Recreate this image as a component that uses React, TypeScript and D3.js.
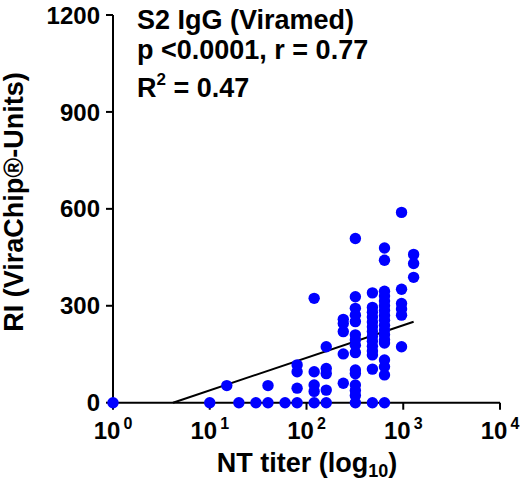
import React from 'react';
import * as d3 from 'd3';

// NT titer groups and the RI values plotted at each titer
const titers = [1, 10, 15, 20, 30, 40, 60, 80, 120, 160, 240, 320, 480, 640, 960, 1280];
const riValues = [
  [0],
  [0],
  [53],
  [0],
  [0],
  [0, 53],
  [0],
  [0, 45, 96, 117],
  [0, 35, 55, 96, 323],
  [0, 39, 90, 106, 173],
  [60, 151, 220, 245, 258],
  [0, 22, 38, 55, 90, 101, 155, 178, 195, 210, 251, 271, 292, 328, 508],
  [0, 104, 148, 160, 175, 190, 205, 220, 235, 250, 265, 280, 295, 340],
  [0, 86, 111, 132, 185, 195, 210, 225, 240, 255, 270, 285, 300, 315, 330, 345, 441, 479],
  [173, 271, 290, 307, 351, 589],
  [388, 431, 459],
];

const yTicks = [0, 300, 600, 900, 1200];
const xTicks = [1, 10, 100, 1000, 10000];

// fitted line RI = intercept + slope * log10(titer)
const fitIntercept = -62.5;
const fitSlope = 100.8;

const statsLines = ['S2 IgG (Viramed)', 'p <0.0001, r = 0.77'];

const FONT = '"Liberation Sans", Arial, sans-serif';

export default function App() {
  const x = d3.scaleLog().domain([1, 10000]).range([113, 500]);
  const y = d3.scaleLinear().domain([0, 1200]).range([402.7, 15]);

  const points = titers.flatMap((t, i) => riValues[i].map(v => ({ t, v })));

  const xStart = Math.pow(10, -fitIntercept / fitSlope);
  const xEnd = d3.max(titers) as number;
  const fit = [xStart, xEnd].map(t => [x(t), y(fitIntercept + fitSlope * Math.log10(t))] as [number, number]);
  const line = d3.line();

  return (
    <svg width={523} height={485} style={{ position: 'absolute', left: 0, top: 0, background: '#fff' }}
      fontFamily={FONT} fontWeight="bold">
      {/* regression line */}
      <path d={line(fit) || ''} stroke="#000" strokeWidth={2} fill="none" />

      {/* axes */}
      <line x1={x(1)} x2={x(10000)} y1={y(0)} y2={y(0)} stroke="#000" strokeWidth={2} />
      <line x1={x(1)} x2={x(1)} y1={y(0) + 1} y2={y(1200)} stroke="#000" strokeWidth={2} />

      {yTicks.map(t => (
        <g key={t}>
          <line x1={x(1) - 7} x2={x(1)} y1={y(t)} y2={y(t)} stroke="#000" strokeWidth={2} />
          <text x={x(1) - 13} y={y(t)} dy="0.36em" textAnchor="end" fontSize={24}>{t}</text>
        </g>
      ))}

      {xTicks.map(t => (
        <g key={t}>
          <line x1={x(t)} x2={x(t)} y1={y(0)} y2={y(0) + 7} stroke="#000" strokeWidth={2} />
          <text x={x(t)} y={439} textAnchor="middle" fontSize={24}>
            10<tspan fontSize={16} dx={3} dy={-10}>{Math.round(Math.log10(t))}</tspan>
          </text>
        </g>
      ))}

      {/* points */}
      {points.map((p, i) => (
        <circle key={i} cx={x(p.t)} cy={y(p.v)} r={5.7} fill="#0000FF" />
      ))}

      {/* axis titles */}
      <text x={307} y={472} textAnchor="middle" fontSize={27}>
        NT titer (log<tspan fontSize={18} dy={5}>10</tspan><tspan dy={-5}>)</tspan>
      </text>
      <text transform="translate(23,202) rotate(-90)" textAnchor="middle" fontSize={27}>
        RI (ViraChip®-Units)
      </text>

      {/* stats annotation */}
      {statsLines.map((s, i) => (
        <text key={s} x={137} y={29 + i * 30} fontSize={27}>{s}</text>
      ))}
      <text x={137} y={97} fontSize={27}>
        R<tspan fontSize={17} dy={-12}>2</tspan><tspan dy={12}> = 0.47</tspan>
      </text>
    </svg>
  );
}
